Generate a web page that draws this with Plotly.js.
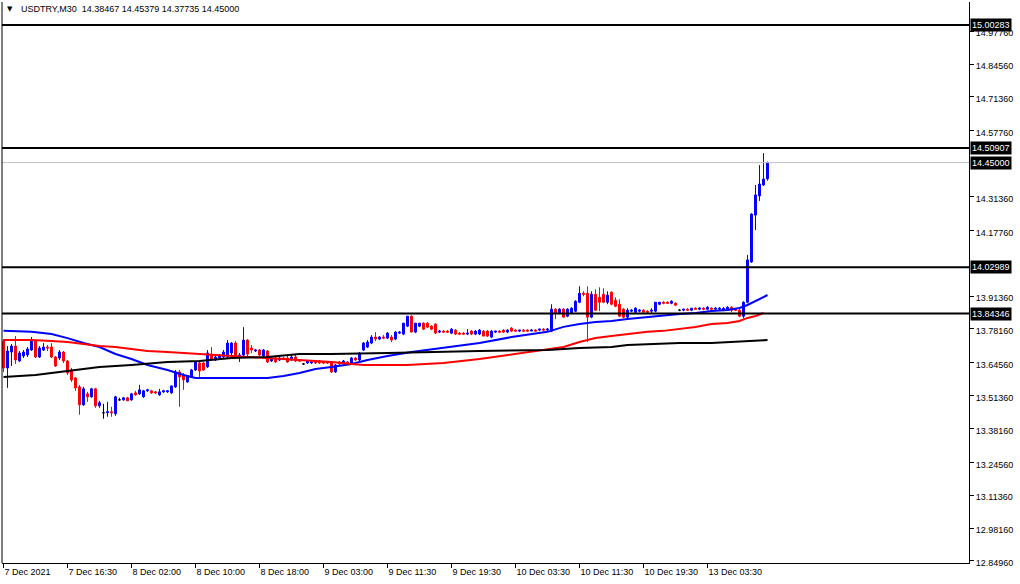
<!DOCTYPE html>
<html><head><meta charset="utf-8">
<script src="https://cdn.plot.ly/plotly-3.0.1.min.js"></script>
<style>html,body{margin:0;padding:0;background:#fff}#chart{width:1020px;height:584px}</style>
</head><body><div id="chart"></div>
<script>
const symbolTitle = "USDTRY,M30";
const lastQuote = ["14.38467", "14.45379", "14.37735", "14.45000"];

const timeLabels = ["7 Dec 2021", "7 Dec 16:30", "8 Dec 02:00", "8 Dec 10:00", "8 Dec 18:00", "9 Dec 03:00",
  "9 Dec 11:30", "9 Dec 19:30", "10 Dec 03:30", "10 Dec 11:30", "10 Dec 19:30", "13 Dec 03:30"];
const timeLabelBars = [0, 16, 32, 48, 64, 80, 96, 112, 128, 144, 160, 176];

const openP = [
13.733,13.625,13.689,13.713,13.653,13.673,13.677,13.697,13.733,13.669,
13.697,13.709,13.709,13.669,13.665,13.689,13.653,13.617,13.585,13.549,
13.477,13.521,13.509,13.541,13.473,13.445,13.445,13.449,13.441,13.497,
13.497,13.505,13.497,13.525,13.521,13.509,13.533,13.533,13.529,13.517,
13.529,13.529,13.525,13.549,13.609,13.597,13.569,13.589,13.617,13.645,
13.645,13.629,13.677,13.657,13.665,13.669,13.669,13.685,13.725,13.669,
13.677,13.737,13.705,13.693,13.697,13.673,13.693,13.653,13.665,13.657,
13.665,13.665,13.657,13.669,13.657,13.641,13.645,13.645,13.653,13.653,
13.649,13.649,13.649,13.609,13.649,13.645,13.649,13.641,13.665,13.657,
13.697,13.709,13.725,13.749,13.741,13.749,13.745,13.749,13.741,13.765,
13.761,13.793,13.833,13.769,13.793,13.805,13.805,13.793,13.801,13.769,
13.773,13.773,13.765,13.777,13.765,13.765,13.761,13.773,13.761,13.761,
13.773,13.773,13.749,13.769,13.773,13.777,13.769,13.785,13.777,13.773,
13.777,13.777,13.773,13.777,13.777,13.781,13.777,13.773,13.861,13.845,
13.861,13.833,13.845,13.853,13.889,13.925,13.925,13.829,13.921,13.909,
13.921,13.889,13.929,13.897,13.881,13.861,13.829,13.853,13.849,13.853,
13.857,13.853,13.853,13.853,13.881,13.889,13.889,13.885,13.885,13.857,
13.857,13.861,13.857,13.865,13.861,13.865,13.861,13.865,13.861,13.861,
13.857,13.861,13.869,13.861,13.857,13.833,13.889,14.051,14.239,14.316,
14.360,14.38467];
const highP = [
13.741,13.713,13.721,13.753,13.693,13.697,13.709,13.749,13.737,13.713,
13.725,13.717,13.725,13.673,13.697,13.693,13.657,13.625,13.589,13.557,
13.549,13.529,13.545,13.545,13.493,13.481,13.489,13.469,13.513,13.505,
13.509,13.509,13.525,13.533,13.557,13.537,13.541,13.537,13.533,13.541,
13.537,13.533,13.553,13.617,13.617,13.605,13.593,13.621,13.653,13.649,
13.649,13.697,13.709,13.673,13.681,13.697,13.737,13.729,13.733,13.685,
13.789,13.741,13.717,13.701,13.701,13.701,13.697,13.669,13.669,13.669,
13.669,13.673,13.677,13.681,13.661,13.645,13.657,13.653,13.657,13.657,
13.653,13.653,13.653,13.641,13.653,13.657,13.653,13.669,13.669,13.689,
13.729,13.737,13.757,13.769,13.753,13.757,13.769,13.757,13.773,13.773,
13.805,13.833,13.837,13.805,13.805,13.809,13.809,13.797,13.805,13.777,
13.777,13.777,13.785,13.781,13.769,13.769,13.781,13.777,13.777,13.781,
13.777,13.777,13.777,13.773,13.777,13.781,13.781,13.789,13.781,13.777,
13.781,13.781,13.781,13.781,13.781,13.785,13.785,13.881,13.865,13.865,
13.865,13.865,13.869,13.897,13.953,13.933,13.953,13.933,13.941,13.949,
13.945,13.933,13.933,13.909,13.901,13.865,13.865,13.861,13.869,13.861,
13.861,13.857,13.865,13.889,13.889,13.893,13.893,13.897,13.889,13.861,
13.861,13.865,13.865,13.869,13.869,13.869,13.873,13.869,13.869,13.869,
13.869,13.873,13.873,13.865,13.869,13.893,14.079,14.247,14.360,14.440,
14.488,14.45379];
const lowP = [
13.609,13.545,13.633,13.641,13.649,13.665,13.669,13.693,13.665,13.665,
13.693,13.693,13.665,13.629,13.657,13.645,13.597,13.569,13.533,13.437,
13.473,13.489,13.505,13.465,13.465,13.421,13.429,13.429,13.433,13.493,
13.493,13.493,13.493,13.513,13.517,13.505,13.529,13.521,13.521,13.513,
13.525,13.525,13.521,13.545,13.469,13.537,13.565,13.585,13.613,13.589,
13.613,13.625,13.653,13.653,13.661,13.665,13.665,13.677,13.665,13.649,
13.669,13.673,13.685,13.689,13.673,13.669,13.645,13.649,13.645,13.653,
13.657,13.645,13.653,13.649,13.649,13.637,13.641,13.641,13.641,13.641,
13.641,13.641,13.605,13.605,13.637,13.641,13.641,13.637,13.653,13.653,
13.693,13.705,13.721,13.733,13.737,13.741,13.741,13.729,13.737,13.761,
13.757,13.789,13.773,13.765,13.789,13.777,13.785,13.777,13.761,13.765,
13.765,13.765,13.761,13.757,13.757,13.761,13.757,13.757,13.757,13.757,
13.753,13.749,13.745,13.765,13.765,13.765,13.765,13.769,13.773,13.769,
13.773,13.773,13.773,13.773,13.773,13.773,13.773,13.769,13.821,13.841,
13.829,13.829,13.841,13.849,13.885,13.913,13.729,13.825,13.853,13.853,
13.885,13.881,13.877,13.869,13.829,13.825,13.825,13.849,13.845,13.849,
13.849,13.849,13.845,13.849,13.877,13.881,13.885,13.881,13.873,13.853,
13.853,13.857,13.853,13.861,13.857,13.857,13.857,13.857,13.857,13.857,
13.853,13.857,13.849,13.853,13.829,13.825,13.885,14.047,14.179,14.296,
14.356,14.37735];
const closeP = [
13.625,13.693,13.713,13.657,13.685,13.689,13.701,13.733,13.669,13.705,
13.709,13.705,13.669,13.633,13.689,13.653,13.605,13.577,13.545,13.477,
13.541,13.509,13.541,13.473,13.485,13.445,13.449,13.445,13.509,13.497,
13.505,13.493,13.521,13.517,13.537,13.533,13.537,13.525,13.525,13.529,
13.533,13.533,13.553,13.609,13.589,13.577,13.593,13.617,13.649,13.613,
13.617,13.685,13.657,13.669,13.677,13.689,13.725,13.725,13.669,13.677,
13.737,13.681,13.697,13.697,13.677,13.697,13.649,13.665,13.649,13.665,
13.661,13.649,13.669,13.653,13.653,13.641,13.653,13.649,13.645,13.645,
13.645,13.645,13.609,13.637,13.641,13.653,13.645,13.665,13.657,13.685,
13.725,13.729,13.749,13.741,13.749,13.745,13.765,13.737,13.769,13.769,
13.805,13.833,13.769,13.805,13.805,13.781,13.789,13.781,13.765,13.773,
13.769,13.769,13.781,13.761,13.761,13.761,13.765,13.761,13.773,13.777,
13.753,13.753,13.773,13.773,13.769,13.769,13.777,13.773,13.773,13.777,
13.773,13.773,13.777,13.773,13.781,13.777,13.781,13.861,13.845,13.861,
13.829,13.861,13.865,13.893,13.925,13.921,13.829,13.921,13.857,13.889,
13.889,13.917,13.881,13.873,13.833,13.829,13.857,13.857,13.865,13.857,
13.849,13.849,13.857,13.889,13.889,13.885,13.885,13.893,13.877,13.857,
13.861,13.857,13.865,13.861,13.865,13.861,13.869,13.861,13.865,13.865,
13.865,13.869,13.857,13.857,13.833,13.889,14.059,14.243,14.320,14.364,
14.384,14.45000];

// moving averages read at sample bars
const blueBars = [0,7,12,16,20,24,28,32,36,41,45,48,66,70,74,78,82,87,91,96,102,111,119,127,136,140,144,148,152,156,161,165,169,173,177,181,184,186,188,191];
const blueMA = [13.774,13.770,13.761,13.745,13.725,13.709,13.681,13.661,13.637,13.617,13.597,13.585,13.585,13.593,13.605,13.621,13.629,13.641,13.657,13.673,13.689,13.709,13.725,13.749,13.770,13.790,13.802,13.810,13.814,13.822,13.830,13.834,13.842,13.846,13.854,13.858,13.866,13.878,13.894,13.918];
const redBars = [0,7,12,16,20,24,28,32,36,41,45,49,53,57,61,66,70,74,78,82,87,90,101,110,119,131,136,140,144,148,152,156,161,165,169,173,177,181,184,186,188,190];
const redMA = [13.737,13.737,13.733,13.729,13.721,13.713,13.709,13.701,13.693,13.689,13.685,13.681,13.677,13.675,13.671,13.665,13.661,13.657,13.653,13.649,13.641,13.637,13.637,13.645,13.661,13.689,13.701,13.709,13.729,13.745,13.753,13.761,13.770,13.774,13.782,13.790,13.802,13.806,13.814,13.826,13.834,13.846];
const blackBars = [0,8,16,24,32,41,49,57,66,74,82,91,96,119,136,144,152,156,169,177,186,191];
const blackMA = [13.589,13.597,13.613,13.629,13.637,13.649,13.653,13.665,13.669,13.681,13.681,13.685,13.685,13.693,13.697,13.705,13.709,13.717,13.725,13.725,13.733,13.737];

const levels = [15.00283, 14.50907, 14.02989, 13.84346];
const bidLevel = 14.45000;
const priceTicks = [14.9776, 14.8456, 14.7136, 14.5776, 14.3136, 14.1776, 13.9136, 13.7816, 13.6456, 13.5136, 13.3816, 13.2456, 13.1136, 12.9816, 12.8496];

const FONT = "Liberation Sans, Arial, sans-serif";
const BLUE = "#0000ff", RED = "#ff0000", BLACK = "#000000";

const idx = openP.map((_, i) => i);
function subset(pred) {
  const s = {x: [], o: [], h: [], l: [], c: []};
  idx.forEach(i => { if (pred(i)) { s.x.push(i); s.o.push(openP[i]); s.h.push(highP[i]); s.l.push(lowP[i]); s.c.push(closeP[i]); } });
  return s;
}
function candle(s, color) {
  return {
    type: "candlestick", x: s.x, open: s.o, high: s.h, low: s.l, close: s.c,
    increasing: {line: {color: color, width: 1}, fillcolor: color},
    decreasing: {line: {color: color, width: 1}, fillcolor: color},
    whiskerwidth: 0, hoverinfo: "skip", showlegend: false
  };
}
const up = subset(i => closeP[i] > openP[i]);
const down = subset(i => closeP[i] < openP[i]);
const doji = subset(i => closeP[i] === openP[i]);

function maLine(xs, ys, color) {
  return {type: "scatter", mode: "lines", x: xs, y: ys, line: {color: color, width: 2}, hoverinfo: "skip", showlegend: false};
}

const traces = [
  candle(up, BLUE), candle(down, RED), candle(doji, BLACK),
  maLine(blueBars, blueMA, BLUE), maLine(redBars, redMA, RED), maLine(blackBars, blackMA, BLACK)
];

const shapes = [];
levels.forEach(v => shapes.push({type: "line", xref: "paper", x0: 0, x1: 1, yref: "y", y0: v, y1: v, line: {color: BLACK, width: 2}}));
shapes.push({type: "line", xref: "paper", x0: 0, x1: 1, yref: "y", y0: bidLevel, y1: bidLevel, line: {color: "#c0c0c0", width: 1}});
shapes.push({type: "line", xref: "paper", x0: 0, x1: 0, yref: "paper", y0: 0, y1: 1, line: {color: BLACK, width: 1}});

const annotations = [];
levels.concat([bidLevel]).forEach(v => annotations.push({
  xref: "paper", x: 1, xanchor: "left", xshift: 1, yref: "y", y: v, yanchor: "middle",
  text: v.toFixed(5), showarrow: false, bgcolor: BLACK, borderpad: 1,
  font: {family: FONT, size: 9, color: "#ffffff"}
}));
annotations.push({xref: "paper", x: 0, xanchor: "left", xshift: 3, yref: "paper", y: 1, yanchor: "top", yshift: -1,
  text: "\u25BC", showarrow: false, font: {family: "DejaVu Sans", size: 7, color: BLACK}});
annotations.push({xref: "paper", x: 0, xanchor: "left", xshift: 17, yref: "paper", y: 1, yanchor: "top", yshift: 0,
  text: symbolTitle + "\u00a0\u00a0" + lastQuote.join("\u00a0"), showarrow: false,
  font: {family: FONT, size: 9, color: BLACK}});

const layout = {
  width: 1020, height: 584,
  margin: {l: 2, r: 51, t: 2, b: 21},
  paper_bgcolor: "#ffffff", plot_bgcolor: "#ffffff",
  showlegend: false,
  xaxis: {
    range: [-0.375, 241.375], rangeslider: {visible: false},
    tickvals: timeLabelBars, ticktext: timeLabels, ticklabelposition: "outside right",
    ticks: "outside", ticklen: 4, tickcolor: BLACK, tickwidth: 1,
    showgrid: false, zeroline: false, showline: true, linecolor: BLACK, linewidth: 1,
    tickfont: {family: FONT, size: 9, color: BLACK}, fixedrange: true
  },
  yaxis: {
    side: "right", range: [12.8415, 15.0951],
    tickvals: priceTicks, ticktext: priceTicks.map(v => v.toFixed(5)),
    ticks: "outside", ticklen: 4, tickcolor: BLACK, tickwidth: 1, ticklabelshift: 2,
    showgrid: false, zeroline: false, showline: true, linecolor: BLACK, linewidth: 1,
    tickfont: {family: FONT, size: 9, color: BLACK}, fixedrange: true
  },
  shapes: shapes,
  annotations: annotations
};

Plotly.newPlot("chart", traces, layout, {staticPlot: true, displayModeBar: false});
</script>
</body></html>
